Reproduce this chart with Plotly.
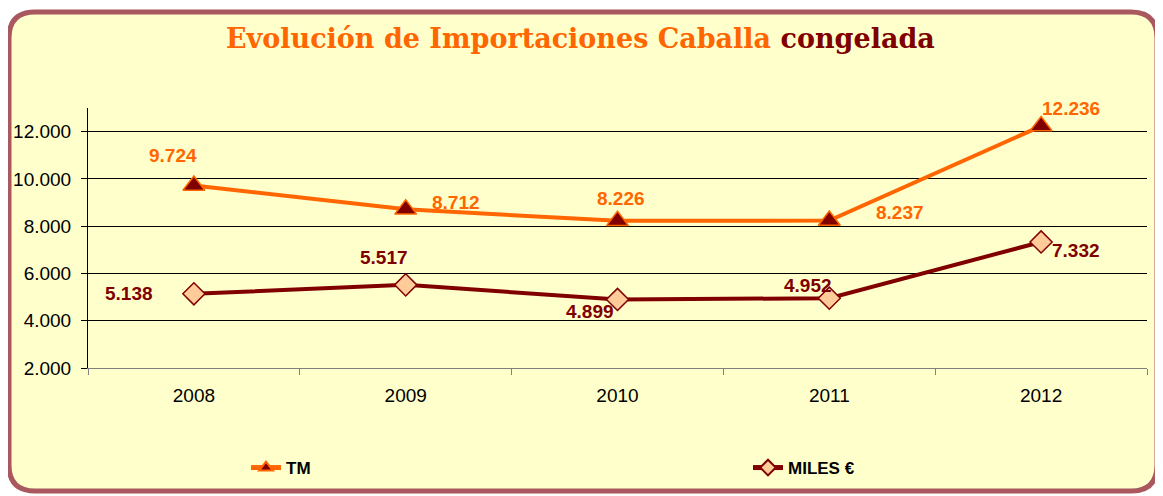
import plotly.graph_objects as go

years = ["2008", "2009", "2010", "2011", "2012"]
tm_values = [9724, 8712, 8226, 8237, 12236]
miles_values = [5138, 5517, 4899, 4952, 7332]
series_names = ["TM", "MILES €"]
y_ticks = [2000, 4000, 6000, 8000, 10000, 12000]

# label offsets (pixels) – style only
tm_offsets = [(-21, 30), (50, 7), (3, 22), (71, 8), (30, 18)]
miles_offsets = [(-65, 0), (-22, 27), (-28, -12), (-21, 13), (35, -9)]

OFF = 8  # page body margin
W, H = 1163 - OFF, 496 - OFF
ML, MT = 88 - OFF, 108 - OFF
MR, MB = W - (1147 - OFF), H - (368 - OFF)
PW, PH = W - ML - MR, H - MT - MB

ORANGE = "#FF6600"
DARKRED = "#800000"
PEACH = "#FFCC99"


def fmt(v):
    return f"{v:,}".replace(",", ".")


def px(x):  # page pixel -> paper
    return (x - OFF - ML) / PW


def py(y):
    return (H - MB - (y - OFF)) / PH


fig = go.Figure()
fig.add_trace(go.Scatter(
    x=years, y=tm_values, name=series_names[0], mode="lines+markers",
    line=dict(color=ORANGE, width=4), legend="legend",
    marker=dict(symbol="triangle-up", size=19, color=DARKRED,
                line=dict(color=ORANGE, width=1.5)),
))
fig.add_trace(go.Scatter(
    x=years, y=miles_values, name=series_names[1], mode="lines+markers",
    line=dict(color=DARKRED, width=4), legend="legend2",
    marker=dict(symbol="diamond", size=17, color=PEACH,
                line=dict(color=DARKRED, width=1.5)),
))

annotations = []
for vals, offs, col in [(tm_values, tm_offsets, ORANGE), (miles_values, miles_offsets, DARKRED)]:
    for i, (v, (dx, dy)) in enumerate(zip(vals, offs)):
        annotations.append(dict(
            x=i, y=v, xref="x", yref="y", text=f"<b>{fmt(v)}</b>",
            showarrow=False, xshift=dx, yshift=dy,
            font=dict(family="Liberation Sans, Arial", size=19, color=col),
        ))

annotations.append(dict(
    x=px(580), y=py(38), xref="paper", yref="paper", showarrow=False,
    xanchor="center", yanchor="middle",
    text=(f"<b><span style='color:{ORANGE}'>Evolución de Importaciones Caballa</span> "
          f"<span style='color:{DARKRED}'>congelada</span></b>"),
    font=dict(family="DejaVu Serif", size=27),
))

# rounded border (page pixels)
L, R, T, B, r = 9, 1157, 12, 491, 26
path = (f"M {px(L + r)} {py(T)} L {px(R - r)} {py(T)} Q {px(R)} {py(T)} {px(R)} {py(T + r)} "
        f"L {px(R)} {py(B - r)} Q {px(R)} {py(B)} {px(R - r)} {py(B)} "
        f"L {px(L + r)} {py(B)} Q {px(L)} {py(B)} {px(L)} {py(B - r)} "
        f"L {px(L)} {py(T + r)} Q {px(L)} {py(T)} {px(L + r)} {py(T)} Z")

legend_font = dict(family="Liberation Sans Narrow, Liberation Sans, Arial", size=17,
                   color="black", weight="bold")

fig.update_layout(
    width=W, height=H,
    margin=dict(l=ML, r=MR, t=MT, b=MB, pad=0, autoexpand=False),
    paper_bgcolor="white", plot_bgcolor="rgba(0,0,0,0)",
    separators=",.",
    showlegend=True,
    legend=dict(orientation="h", x=px(246), y=py(468), xanchor="left", yanchor="middle",
                bgcolor="rgba(0,0,0,0)", font=legend_font, itemsizing="constant"),
    legend2=dict(orientation="h", x=px(748), y=py(468), xanchor="left", yanchor="middle",
                 bgcolor="rgba(0,0,0,0)", font=legend_font, itemsizing="constant"),
    annotations=annotations,
    shapes=[dict(type="path", xref="paper", yref="paper", path=path, layer="below",
                 fillcolor="#FFFFCC", line=dict(color="#A8585E", width=5))],
    xaxis=dict(type="category", range=[-0.5, 4.5], tickson="boundaries", ticks="outside",
               ticklen=6, tickcolor="#808080", showline=True, linecolor="#808080", linewidth=1,
               showgrid=False, zeroline=False, ticklabelstandoff=10, automargin=False,
               tickfont=dict(family="Liberation Sans, Arial", size=19, color="black")),
    yaxis=dict(range=[2000, 13000], tickvals=y_ticks, tickformat=",.0f", ticks="outside",
               ticklen=6, tickcolor="black", showline=True, linecolor="black", linewidth=1,
               showgrid=True, gridcolor="black", gridwidth=1, zeroline=False,
               ticklabelstandoff=6, automargin=False,
               tickfont=dict(family="Liberation Sans, Arial", size=19, color="black")),
)

fig.write_html("out.html")
